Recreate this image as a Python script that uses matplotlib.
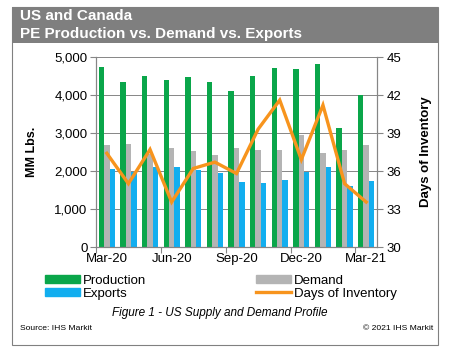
import numpy as np
import matplotlib
matplotlib.use("Agg")
from matplotlib import pyplot as plt
from matplotlib.patches import Rectangle
from matplotlib.lines import Line2D
from matplotlib.patches import Patch

plt.rcParams['font.family'] = ['Liberation Sans', 'DejaVu Sans']

months = ['Mar-20', 'Apr-20', 'May-20', 'Jun-20', 'Jul-20', 'Aug-20', 'Sep-20',
          'Oct-20', 'Nov-20', 'Dec-20', 'Jan-21', 'Feb-21', 'Mar-21']
production = [4750, 4330, 4490, 4390, 4465, 4335, 4100, 4490, 4720, 4695, 4825, 3140, 4000]
demand = [2690, 2715, 2450, 2600, 2520, 2425, 2600, 2550, 2550, 2950, 2480, 2550, 2690]
exports = [2045, 1985, 2100, 2105, 2020, 1955, 1710, 1685, 1755, 1985, 2105, 1600, 1735]
days_inventory = [37.4, 35.0, 37.7, 33.55, 36.2, 36.7, 35.8, 39.3, 41.6, 36.9, 41.2, 35.0, 33.55]
tick_labels = ['Mar-20', 'Jun-20', 'Sep-20', 'Dec-20', 'Mar-21']

green = '#0aa64a'
grey = '#b4b4b4'
blue = '#12aeef'
orange = '#f7941d'
axis_col = '#868686'

fig = plt.figure(figsize=(4.5, 3.59), dpi=100)
W, H = 450, 359

# outer frame and title band
fig.patches.append(Rectangle((12 / W, 1 - 345 / H), 426 / W, 338 / H, transform=fig.transFigure,
                             fill=False, edgecolor='#808080', linewidth=0.8))
fig.patches.append(Rectangle((12 / W, 1 - 43 / H), 426 / W, 36 / H, transform=fig.transFigure,
                             facecolor='#7f7f7f', edgecolor='none'))
fig.text(20 / W, 1 - 16 / H, 'US and Canada', color='white', fontsize=11,
         fontweight='bold', va='center', ha='left')
fig.text(20 / W, 1 - 34 / H, 'PE Production vs. Demand vs. Exports', color='white',
         fontsize=11, fontweight='bold', va='center', ha='left')

ax = fig.add_axes([96 / W, 1 - 247 / H, 281 / W, 190 / H])
x = np.arange(len(months))
w = 0.25
ax.bar(x - w, production, w, color=green, zorder=2)
ax.bar(x, demand, w, color=grey, zorder=2)
ax.bar(x + w, exports, w, color=blue, zorder=2)
ax.set_xlim(-0.5, len(months) - 0.5)
ax.set_ylim(0, 5000)
ax.set_yticks(np.arange(0, 5001, 1000))
ax.set_yticklabels(['{:,}'.format(v) for v in range(0, 5001, 1000)], fontsize=9.5)
ax.yaxis.grid(True, color=axis_col, linewidth=0.7, zorder=0)
ax.set_axisbelow(True)
ax.set_ylabel('MM Lbs.', fontsize=9, fontweight='bold', labelpad=12)

ax.set_xticks(np.arange(-0.5, len(months), 3))
ax.set_xticklabels([])
ax.set_xticks([months.index(m) for m in tick_labels], minor=True)
ax.set_xticklabels(tick_labels, minor=True, fontsize=9.5)
ax.tick_params(axis='x', which='minor', length=0, pad=4)
ax.tick_params(axis='x', which='major', length=4, color=axis_col)
ax.tick_params(axis='y', length=4, color=axis_col, pad=2)
ax.spines['top'].set_visible(False)
for s in ['left', 'right', 'bottom']:
    ax.spines[s].set_color(axis_col)
    ax.spines[s].set_linewidth(0.8)

ax2 = ax.twinx()
ax2.plot(x, days_inventory, color=orange, linewidth=2.4, solid_joinstyle='miter', zorder=3)
ax2.set_ylim(30, 45)
ax2.set_yticks(np.arange(30, 46, 3))
ax2.set_yticklabels([str(v) for v in range(30, 46, 3)], fontsize=9.5)
ax2.tick_params(axis='y', length=4, color=axis_col, pad=3)
ax2.set_ylabel('Days of Inventory', fontsize=9.5, fontweight='bold', labelpad=13)
ax2.spines['top'].set_visible(False)
for s in ['left', 'right', 'bottom']:
    ax2.spines[s].set_color(axis_col)
    ax2.spines[s].set_linewidth(0.8)

handles = [Patch(color=green, label='Production'), Patch(color=blue, label='Exports'),
           Patch(color=grey, label='Demand'),
           Line2D([0], [0], color=orange, linewidth=2.4, label='Days of Inventory')]
leg = fig.legend(handles=handles, ncol=2, loc='upper left',
                 bbox_to_anchor=(45 / W, 1 - 275 / H), frameon=False,
                 fontsize=9.5, handlelength=2.65, handleheight=0.55, handletextpad=0.23,
                 labelspacing=0.05, columnspacing=8.3, borderpad=0, borderaxespad=0)

fig.text(220 / W, 1 - 313 / H, 'Figure 1 - US Supply and Demand Profile', fontsize=8.5,
         style='italic', ha='center', va='center')
fig.text(20 / W, 1 - 328 / H, 'Source: IHS Markit', fontsize=6.1, ha='left', va='center')
fig.text(433 / W, 1 - 328 / H, '\u00a9 2021 IHS Markit', fontsize=6.1, ha='right', va='center')

fig.savefig('out.png', dpi=100)
